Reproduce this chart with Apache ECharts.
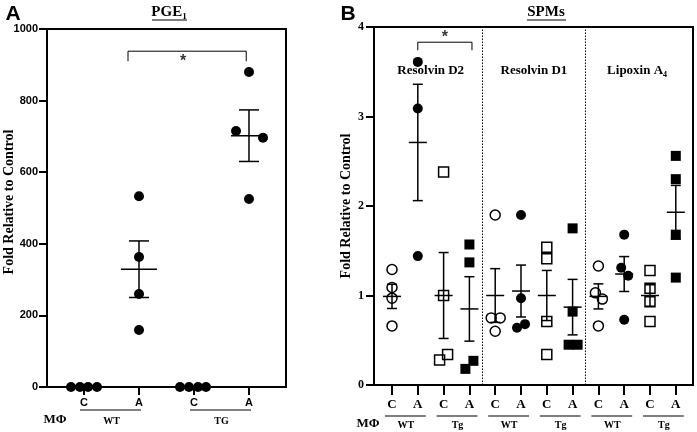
<!DOCTYPE html>
<html><head><meta charset="utf-8">
<script src="https://cdn.jsdelivr.net/npm/echarts@6/dist/echarts.min.js"></script>
<style>html,body{margin:0;padding:0;background:#fff}#c{width:697px;height:432px}</style>
</head><body><div id="c"></div>
<script>
// ---------------- DATA ----------------
// Panel A : PGE1
const ticksA = ['C', 'A', 'C', 'A'];
const groupsA = ['WT', 'TG'];
const yTicksA = [0, 200, 400, 600, 800, 1000];
const pgeWTC = [0, 0, 0, 0];
const pgeWTA = [533, 363, 260, 159];
const pgeTGC = [0, 0, 0, 0];
const pgeTGA = [880, 715, 696, 525];
const pgeMean = [0, 329, 0, 702];
const pgeSem = [0, 79, 0, 72];

// Panel B : SPMs
const ticksB = ['C', 'A', 'C', 'A', 'C', 'A', 'C', 'A', 'C', 'A', 'C', 'A'];
const groupsB = ['WT', 'Tg', 'WT', 'Tg', 'WT', 'Tg'];
const sectionsB = ['Resolvin D2', 'Resolvin D1', 'Lipoxin A|4'];
const yTicksB = [0, 1, 2, 3, 4];
const rvd2WTC = [1.29, 1.09, 0.97, 0.66];
const rvd2WTA = [3.61, 3.09, 1.44];
const rvd2TgC = [2.38, 1.00, 0.34, 0.28];
const rvd2TgA = [1.57, 1.37, 0.27, 0.18];
const rvd1WTC = [1.90, 0.75, 0.75, 0.60];
const rvd1WTA = [1.90, 0.97, 0.68, 0.64];
const rvd1TgC = [1.54, 1.41, 0.71, 0.34];
const rvd1TgA = [1.75, 0.82, 0.45, 0.45];
const lxWTC = [1.33, 1.03, 0.96, 0.66];
const lxWTA = [1.68, 1.31, 1.22, 0.73];
const lxTgC = [1.28, 1.08, 0.93, 0.71];
const lxTgA = [2.56, 2.30, 1.68, 1.20];
const spmMean = [0.99, 2.71, 1.00, 0.85, 1.00, 1.05, 1.00, 0.87, 0.99, 1.24, 1.00, 1.93];
const spmSem  = [0.135, 0.65, 0.48, 0.36, 0.30, 0.29, 0.28, 0.31, 0.14, 0.195, 0.12, 0.30];

// ---------------- STYLE / LAYOUT ----------------
const jitA = [[-13, -4, 4, 13], [0, 0, 0, 0], [-14, -5, 4, 12], [0, -13, 14, 0]];
const jitB = [[0,0,0,0],[0,0,0],[0,0,4,-4],[0,0,4,-4],
              [0,-4,5,0],[0,0,4,-4],[0,0,0,0],[0,0,-4,5],
              [0,-3,4,0],[0,-3,4,0],[0,0,0,0],[0,0,0,0]];
const SERIF = '"Liberation Serif","Times New Roman",serif';
const SANS = '"Liberation Sans",Arial,sans-serif';

const groupsDataA = [pgeWTC, pgeWTA, pgeTGC, pgeTGA];
const groupsDataB = [rvd2WTC, rvd2WTA, rvd2TgC, rvd2TgA, rvd1WTC, rvd1WTA, rvd1TgC, rvd1TgA, lxWTC, lxWTA, lxTgC, lxTgA];

const chart = echarts.init(document.getElementById('c'), null, { renderer: 'canvas' });

function errRender(halfMean, halfCap, lw) {
  return function (params, api) {
    const x = api.value(0), m = api.value(1), s = api.value(2);
    const c = api.coord([x, m]);
    const st = { stroke: '#000', lineWidth: lw, fill: null };
    const ch = [{ type: 'line', shape: { x1: c[0] - halfMean, y1: c[1], x2: c[0] + halfMean, y2: c[1] }, style: st }];
    if (s > 0) {
      const t = api.coord([x, m + s]), b = api.coord([x, m - s]);
      ch.push({ type: 'line', shape: { x1: c[0], y1: t[1], x2: c[0], y2: b[1] }, style: st });
      ch.push({ type: 'line', shape: { x1: c[0] - halfCap, y1: t[1], x2: c[0] + halfCap, y2: t[1] }, style: st });
      ch.push({ type: 'line', shape: { x1: c[0] - halfCap, y1: b[1], x2: c[0] + halfCap, y2: b[1] }, style: st });
    }
    return { type: 'group', children: ch };
  };
}

function axisX(grid, min, max, ticks, font, fsize, tickLen, margin) {
  const vals = ticks.map((t, i) => i + 1);
  return {
    gridIndex: grid, type: 'value', min: min, max: max,
    axisLine: { show: true, onZero: false, lineStyle: { color: '#000', width: 2 } },
    splitLine: { show: false },
    axisTick: { show: true, customValues: vals, length: tickLen, lineStyle: { color: '#000', width: 2 } },
    axisLabel: { show: true, customValues: vals, formatter: v => ticks[Math.round(v) - 1] || '',
      fontFamily: font, fontWeight: 'bold', fontSize: fsize, color: '#000', margin: margin }
  };
}
function axisY(grid, ticks, font, fsize, margin) {
  return {
    gridIndex: grid, type: 'value', min: ticks[0], max: ticks[ticks.length - 1],
    axisLine: { show: true, onZero: false, lineStyle: { color: '#000', width: 2 } },
    splitLine: { show: false },
    axisTick: { show: true, customValues: ticks, length: 8, lineStyle: { color: '#000', width: 2 } },
    axisLabel: { show: true, customValues: ticks, formatter: v => String(v),
      fontFamily: font, fontWeight: 'bold', fontSize: fsize, color: '#000', margin: margin }
  };
}

// scatter data A
const scatA = [];
groupsDataA.forEach((arr, g) => arr.forEach((v, i) => scatA.push({ value: [g + 1, v], symbolOffset: [jitA[g][i], 0] })));
// scatter data B per marker style
const markerStyles = [
  { symbol: 'circle', itemStyle: { color: 'rgba(0,0,0,0)', borderColor: '#000', borderWidth: 1.5, opacity: 1 } },
  { symbol: 'circle', itemStyle: { color: '#000', opacity: 1 } },
  { symbol: 'rect', itemStyle: { color: 'rgba(0,0,0,0)', borderColor: '#000', borderWidth: 1.5, opacity: 1 } },
  { symbol: 'rect', itemStyle: { color: '#000', opacity: 1 } }
];
const scatB = markerStyles.map(() => []);
groupsDataB.forEach((arr, g) => arr.forEach((v, i) => scatB[g % 4].push({ value: [g + 1, v], symbolOffset: [jitB[g][i], 0] })));

const separators = [];
for (let k = 1; k < sectionsB.length; k++) separators.push({ xAxis: k * 4 + 0.5 });

const series = [
  { type: 'custom', xAxisIndex: 0, yAxisIndex: 0, renderItem: errRender(18, 10, 1.5), encode: { x: 0, y: 1 },
    data: pgeMean.map((m, i) => [i + 1, m, pgeSem[i]]), z: 3, silent: true },
  { type: 'scatter', xAxisIndex: 0, yAxisIndex: 0, symbol: 'circle', symbolSize: 10, itemStyle: { color: '#000', opacity: 1 },
    data: scatA, clip: false, z: 4 },
  { type: 'line', xAxisIndex: 0, yAxisIndex: 0, showSymbol: false, symbol: 'none', lineStyle: { color: '#000', width: 1 },
    data: [[1.8, 910], [1.8, 938], [3.95, 938], [3.95, 910]], z: 3, silent: true },
  { type: 'scatter', xAxisIndex: 0, yAxisIndex: 0, symbolSize: 0, data: [[2.8, 908]],
    label: { show: true, position: 'inside', formatter: '*', fontFamily: SANS, fontWeight: 'bold', fontSize: 16, color: '#000' }, silent: true },

  { type: 'custom', xAxisIndex: 1, yAxisIndex: 1, renderItem: errRender(9, 5, 1.5), encode: { x: 0, y: 1 },
    data: spmMean.map((m, i) => [i + 1, m, spmSem[i]]), z: 3, silent: true,
    markLine: { silent: true, symbol: 'none', label: { show: false },
      lineStyle: { color: '#000', width: 1, type: [1.5, 1.5] }, data: separators } },
  ...markerStyles.map((ms, s) => ({ type: 'scatter', xAxisIndex: 1, yAxisIndex: 1, symbol: ms.symbol, symbolSize: 10,
    itemStyle: ms.itemStyle, data: scatB[s], clip: false, z: 4 })),
  { type: 'line', xAxisIndex: 1, yAxisIndex: 1, showSymbol: false, symbol: 'none', lineStyle: { color: '#000', width: 1 },
    data: [[2, 3.74], [2, 3.83], [4.1, 3.83], [4.1, 3.74]], z: 3, silent: true },
  { type: 'scatter', xAxisIndex: 1, yAxisIndex: 1, symbolSize: 0, data: [[3.05, 3.88]],
    label: { show: true, position: 'inside', formatter: '*', fontFamily: SANS, fontWeight: 'bold', fontSize: 16, color: '#000' }, silent: true }
];

chart.setOption({
  animation: false,
  backgroundColor: '#fff',
  grid: [
    { left: 47, top: 29, width: 239, height: 358, show: true, borderColor: '#000', borderWidth: 2, backgroundColor: 'transparent' },
    { left: 374, top: 27, width: 319, height: 358, show: true, borderColor: '#000', borderWidth: 2, backgroundColor: 'transparent' }
  ],
  xAxis: [
    axisX(0, 0.327, 4.673, ticksA, SANS, 11, 8, 10),
    axisX(1, 0.302, 12.667, ticksB, SERIF, 13, 10, 13)
  ],
  yAxis: [
    axisY(0, yTicksA, SANS, 11, 9),
    axisY(1, yTicksB, SERIF, 12, 10)
  ],
  series: series
});

// ---------------- annotations ----------------
function px(grid, x, y) { return chart.convertToPixel({ gridIndex: grid }, [x, y]); }
function txt(x, y, text, font, extra) {
  return Object.assign({ type: 'text', x: x, y: y, silent: true,
    style: { text: text, font: font, fill: '#000', align: 'center', verticalAlign: 'middle', textAlign: 'center', textVerticalAlign: 'middle' } }, extra || {});
}
function richSub(x, y, main, sub, size) {
  return { type: 'text', x: x, y: y, silent: true,
    style: { text: '{m|' + main + '}{s|' + sub + '}', fill: '#000', align: 'center', verticalAlign: 'middle', textAlign: 'center', textVerticalAlign: 'middle',
      rich: { m: { font: 'bold ' + size + 'px ' + SERIF, lineHeight: size + 4, verticalAlign: 'middle' },
              s: { font: 'bold ' + Math.round(size * 0.62) + 'px ' + SERIF, lineHeight: size + 4, verticalAlign: 'bottom' } } } };
}
function hline(x1, x2, y, w) {
  return { type: 'line', silent: true, shape: { x1: x1, y1: y, x2: x2, y2: y }, style: { stroke: '#000', lineWidth: w || 1 } };
}

const g = [];
g.push(txt(13, 14, 'A', 'bold 21px ' + SANS));
g.push(txt(348, 14, 'B', 'bold 21px ' + SANS));
g.push(richSub(169, 12, 'PGE', '1', 15));
g.push(hline(152, 187, 20, 1));
g.push(txt(546, 12, 'SPMs', 'bold 15px ' + SERIF));
g.push(hline(527, 566, 20, 1));
g.push(txt(9, 202, 'Fold Relative to Control', 'bold 14px ' + SERIF, { rotation: Math.PI / 2 }));
g.push(txt(346, 206, 'Fold Relative to Control', 'bold 14px ' + SERIF, { rotation: Math.PI / 2 }));
g.push(txt(55, 420, 'M\u03A6', 'bold 13px ' + SERIF));
g.push(txt(368, 424, 'M\u03A6', 'bold 13px ' + SERIF));

groupsA.forEach((name, i) => {
  const a = px(0, 2 * i + 1, 0)[0], b = px(0, 2 * i + 2, 0)[0];
  g.push(hline(a - 4, b + 2, 410, 1.2));
  g.push(txt((a + b) / 2, 421, name, 'bold 10px ' + SERIF));
});
groupsB.forEach((name, i) => {
  const a = px(1, 2 * i + 1, 0)[0], b = px(1, 2 * i + 2, 0)[0];
  g.push(hline(a - 7, b + 8, 416, 1.2));
  g.push(txt((a + b) / 2 + 1, 425, name, 'bold 10px ' + SERIF));
});
sectionsB.forEach((name, k) => {
  const p = px(1, k * 4 + 2.5, 3.51);
  const parts = name.split('|');
  if (parts.length > 1) g.push(richSub(p[0], p[1], parts[0], parts[1], 13));
  else g.push(txt(p[0], p[1], name, 'bold 13px ' + SERIF));
});
chart.setOption({ graphic: { elements: g } });
</script>
</body></html>
